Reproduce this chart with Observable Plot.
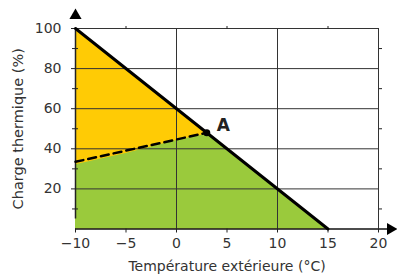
<!DOCTYPE html>
<html>
<head>
<meta charset="utf-8">
<script src="https://cdn.jsdelivr.net/npm/d3@7"></script>
<script src="https://cdn.jsdelivr.net/npm/@observablehq/plot@0.6"></script>
<style>
  html, body { margin: 0; padding: 0; background: #fff; }
</style>
</head>
<body>
<div id="chart"></div>
<script>
// Data
const heatLineX = [-10, 15];
const heatLineY = [100, 0];
const dashX = [-10, 3];
const dashY = [33.5, 48];
const greenX = [-10, -5, 0, 2.5, 3, 15];
const greenY = [32, 37.6, 44.2, 46.8, 48, 0];
const pointA = { x: 3, y: 48, label: "A" };
const xTicks = [-10, -5, 0, 5, 10, 15, 20];
const xMinor = [-5, 5, 15];
const yTicks = [20, 40, 60, 80, 100];
const yMinor = [10, 30, 50, 70, 90];
const xGrid = [0, 10, 20];
const yGrid = [20, 40, 60, 80, 100];
const xLabel = "Température extérieure (°C)";
const yLabel = "Charge thermique (%)";

const heatLine = heatLineX.map((x, i) => ({ x, y: heatLineY[i] }));
const dash = dashX.map((x, i) => ({ x, y: dashY[i] }));
const green = greenX.map((x, i) => ({ x, y: greenY[i] }));

const YELLOW = "#ffcb05";
const GREEN = "#9aca3c";
const GRID = "#333";
const FONT = "'DejaVu Sans', sans-serif";

const chart = Plot.plot({
  width: 397,
  height: 275,
  marginLeft: 75,
  marginRight: 19,
  marginTop: 28,
  marginBottom: 46.5,
  x: { domain: [-10, 20] },
  y: { domain: [0, 100] },
  style: { fontFamily: FONT, fontSize: "14px", color: "#333", background: "#fff", overflow: "visible" },
  marks: [
    Plot.areaY(heatLine, { x: "x", y: "y", fill: YELLOW }),
    Plot.areaY(green, { x: "x", y: "y", fill: GREEN }),
    Plot.ruleX(xGrid, { stroke: GRID, strokeWidth: 1 }),
    Plot.ruleY(yGrid, { stroke: GRID, strokeWidth: 1 }),
    // axis lines with arrows
    Plot.ruleX([-10], { y1: 0, y2: 100, insetTop: -10, stroke: "#222", strokeWidth: 1.5 }),
    Plot.ruleY([0], { x1: -10, x2: 20, insetRight: -10, stroke: "#111", strokeWidth: 1.5 }),
    Plot.dot([{ x: -10, y: 100 }], { x: "x", y: "y", symbol: "triangle", r: 4.5, fill: "#000", dy: -13 }),
    Plot.dot([{ x: 20, y: 0 }], { x: "x", y: "y", symbol: "triangle", r: 4.5, fill: "#000", dx: 12, rotate: 90 }),
    // axes
    Plot.axisX(xTicks, { anchor: "bottom", label: null, tickSize: 4, tickPadding: 5, stroke: "#222", fill: "#333" }),
    Plot.axisX(xMinor, { anchor: "top", label: null, tickSize: 3, text: null, stroke: "#222" }),
    Plot.axisY(yTicks, { anchor: "left", label: null, tickSize: 4, tickPadding: 10, stroke: "#222", fill: "#333" }),
    Plot.axisY(yMinor, { anchor: "left", label: null, tickSize: 6, dx: 3, text: null, stroke: "#222" }),
    Plot.axisY(yMinor, { anchor: "right", label: null, tickSize: 3, text: null, stroke: "#222" }),
    // lines
    Plot.line(dash, { x: "x", y: "y", stroke: "#000", strokeWidth: 2.5, strokeDasharray: "8,5" }),
    Plot.line(heatLine, { x: "x", y: "y", stroke: "#000", strokeWidth: 3 }),
    Plot.dot([pointA], { x: "x", y: "y", r: 3.5, fill: "#000" }),
    Plot.text([pointA], { x: "x", y: "y", text: "label", dx: 10, dy: -7, textAnchor: "start", fontWeight: "bold", fontSize: 17, fill: "#222" }),
    // axis labels
    Plot.text([xLabel], { frameAnchor: "bottom", dy: 37.5, lineAnchor: "middle", textAnchor: "middle", text: d => d, fontSize: 14, fill: "#333" }),
    Plot.text([yLabel], { frameAnchor: "left", dx: -57, rotate: -90, lineAnchor: "middle", textAnchor: "middle", text: d => d, fontSize: 14.5, fill: "#333" })
  ]
});
document.getElementById("chart").appendChild(chart);
</script>
</body>
</html>
